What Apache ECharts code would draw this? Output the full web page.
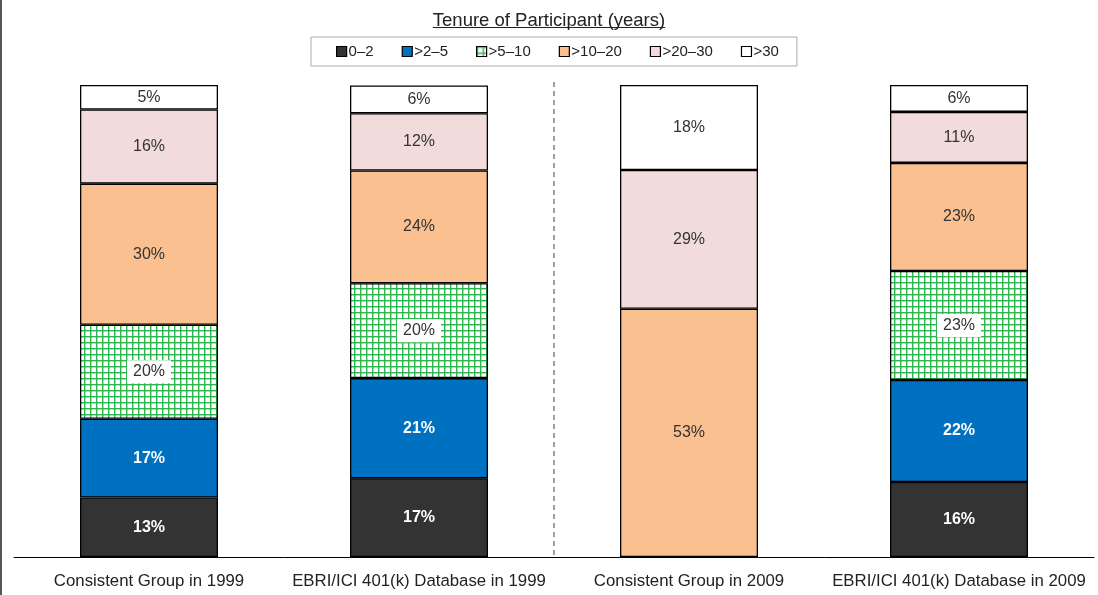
<!DOCTYPE html>
<html><head><meta charset="utf-8">
<script src="https://cdn.jsdelivr.net/npm/echarts@6/dist/echarts.min.js"></script>
<style>html,body{margin:0;padding:0;background:#fff}#c{width:1098px;height:595px}</style>
</head><body><div id="c"></div>
<script>
const categories = ['Consistent Group in 1999','EBRI/ICI 401(k) Database in 1999','Consistent Group in 2009','EBRI/ICI 401(k) Database in 2009'];
const seriesNames = ['0\u20132','>2\u20135','>5\u201310','>10\u201320','>20\u201330','>30'];
const v0_2    = [12.6, 16.7, 0, 15.9];
const v2_5    = [16.7, 21.2, 0, 21.6];
const v5_10   = [19.9, 20.1, 0, 23.1];
const v10_20  = [29.9, 23.9, 52.6, 22.9];
const v20_30  = [15.7, 12.1, 29.4, 10.8];
const v30     = [5.2, 5.9, 18.0, 5.7];
const legendTitle = 'Tenure of Participant (years)';

// hatch pattern
const pc = document.createElement('canvas');
pc.width = 6; pc.height = 6;
const px = pc.getContext('2d');
px.fillStyle = '#ffffff'; px.fillRect(0,0,6,6);
px.fillStyle = '#2db54f';
px.fillRect(0,0,6,1.4); px.fillRect(0,0,1.4,6);

const colors = ['#333333','#0070c0',{image: pc, repeat:'repeat'},'#fac090','#f2dcdb','#ffffff'];
const allData = [v0_2, v2_5, v5_10, v10_20, v20_30, v30];
const font = '"Liberation Sans", Arial, sans-serif';

const chart = echarts.init(document.getElementById('c'), null, {renderer:'canvas'});
const series = seriesNames.map((n,i)=>({
  name: n, type:'bar', stack:'s', barWidth: 138,
  data: allData[i].map(v => v === 0 ? null : v),
  itemStyle: {color: colors[i], borderColor:'#000', borderWidth:1.3},
  label: {
    show:true, position:'inside', fontFamily: font, fontSize:16,
    color: i < 2 ? '#fff' : '#333',
    fontWeight: i < 2 ? 'bold' : 'normal',
    backgroundColor: i === 2 ? '#fff' : 'transparent',
    padding: i === 2 ? [4,6,3,6] : 0,
    formatter: p => Math.round(p.value) + '%'
  },
  emphasis:{disabled:true}, animation:false
}));

chart.setOption({
  animation:false,
  grid:{left:14, right:4, top:85, bottom:38},
  legend:{
    data: seriesNames, left:311, top:37, padding:[7,18,7,25],
    icon:'rect', itemWidth:10, itemHeight:10, itemGap:28,
    borderColor:'#aaa', borderWidth:1,
    textStyle:{fontFamily:font, fontSize:15, color:'#222', padding:[0,0,0,-3]},
    itemStyle:{borderColor:'#000', borderWidth:1.2},
    selectedMode:false
  },
  title:{text:legendTitle, left:'center', top:6, textStyle:{fontFamily:font, fontSize:18.5, fontWeight:'normal', color:'#222'}},
  xAxis:{type:'category', data:categories, axisTick:{show:false},
    axisLine:{lineStyle:{color:'#000', width:1}},
    axisLabel:{fontFamily:font, fontSize:16.8, color:'#222', margin:16, interval:0}},
  yAxis:{type:'value', min:0, max:100, show:false},
  series
});

// separator, underline, left border
const x1 = chart.convertToPixel({xAxisIndex:0}, 1);
const x2 = chart.convertToPixel({xAxisIndex:0}, 2);
const xm = (x1 + x2) / 2;
const yTop = chart.convertToPixel({yAxisIndex:0}, 100) - 3;
const yBot = chart.convertToPixel({yAxisIndex:0}, 0);
const mc = document.createElement('canvas').getContext('2d');
mc.font = '18.5px ' + font;
const tw = mc.measureText(legendTitle).width;
chart.setOption({graphic:[
  {type:'line', shape:{x1:xm, y1:yTop, x2:xm, y2:yBot}, style:{stroke:'#444', lineWidth:1, lineDash:[5,4]}, silent:true},
  {type:'line', shape:{x1:549 - tw/2, y1:27.5, x2:549 + tw/2, y2:27.5}, style:{stroke:'#222', lineWidth:1}, silent:true},
  {type:'line', shape:{x1:1, y1:0, x2:1, y2:595}, style:{stroke:'#555', lineWidth:2}, silent:true}
]});
</script></body></html>
